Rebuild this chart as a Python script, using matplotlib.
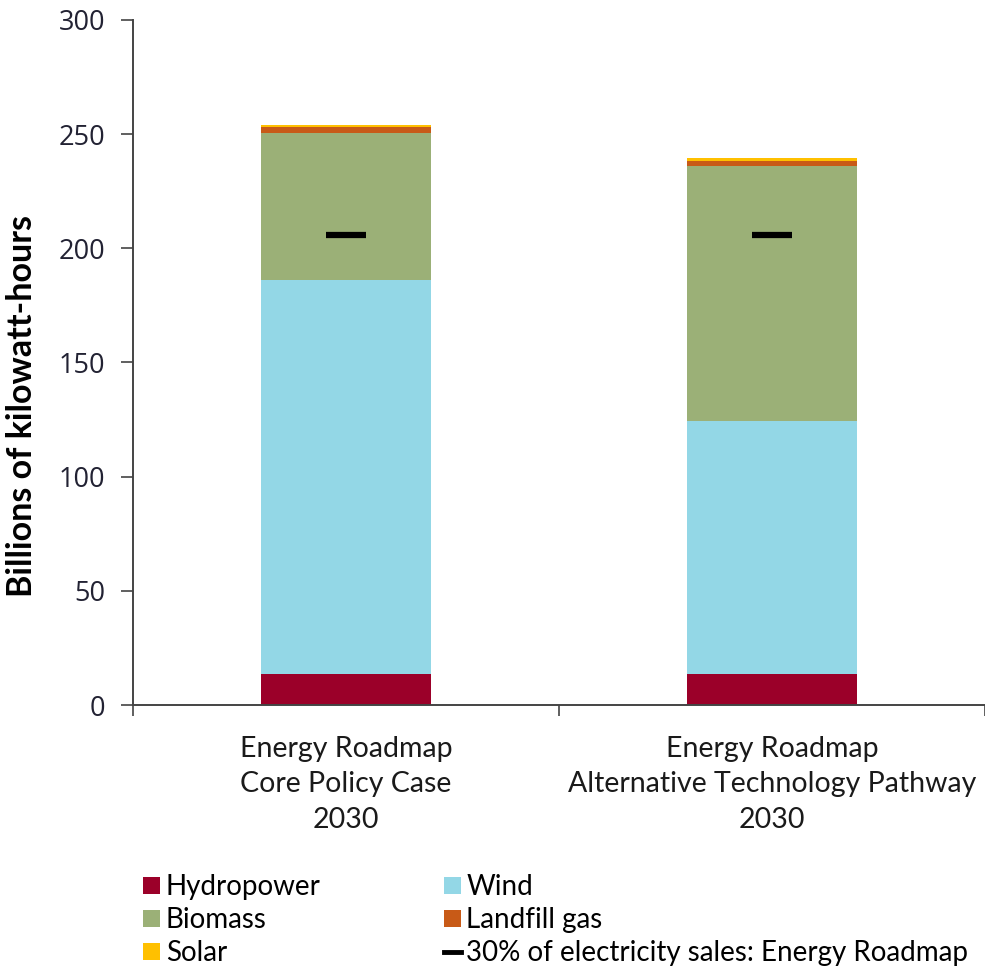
import matplotlib
matplotlib.use("Agg")
import matplotlib.pyplot as plt
from matplotlib.patches import Patch
from matplotlib.lines import Line2D
import numpy as np

plt.rcParams['font.family'] = ['Lato', 'DejaVu Sans']

categories = ["Energy Roadmap\nCore Policy Case\n2030",
              "Energy Roadmap\nAlternative Technology Pathway\n2030"]
hydropower = [13.6, 13.6]
wind = [172.6, 110.8]
biomass = [64.2, 111.7]
landfill = [2.8, 2.2]
solar = [0.7, 1.3]
target_30pct = [206, 206]

series = [("Hydropower", hydropower, "#9B0029"),
          ("Wind", wind, "#93D7E6"),
          ("Biomass", biomass, "#9BB077"),
          ("Landfill gas", landfill, "#C85A17"),
          ("Solar", solar, "#FFC000")]

fig = plt.figure(figsize=(9.85, 9.72), dpi=100)
ax = fig.add_axes([133/985, 1 - 705/972, 1 - 133/985, (705 - 20)/972])

x = np.arange(len(categories))
bottom = np.zeros(len(categories))
handles = {}
for name, vals, col in series:
    ax.bar(x, vals, width=0.4, bottom=bottom, color=col, edgecolor='none')
    bottom += np.array(vals)
    handles[name] = Patch(facecolor=col, edgecolor='none')

ax.scatter(x, target_30pct, marker='_', s=800, color='black', linewidths=4.5, zorder=5)

ax.set_xlim(-0.5, 1.5)
ax.set_ylim(0, 300)
ax.set_yticks(range(0, 301, 50))
ax.tick_params(axis='y', labelsize=19.5, colors='#444444', length=9, width=1.2,
               direction='out', pad=11, labelcolor='#222233')
for lbl in ax.get_yticklabels():
    lbl.set_family(['Open Sans', 'DejaVu Sans'])
ax.set_xticks(x)
ax.set_xticklabels(categories, fontsize=20.5, linespacing=1.47, color='#1a1a1a')
ax.tick_params(axis='x', length=0, pad=22)
ax.set_xticks([-0.5, 0.5, 1.5], minor=True)
ax.tick_params(axis='x', which='minor', length=8, width=1.2, direction='out', colors='#444444')
for s in ['top', 'right']:
    ax.spines[s].set_visible(False)
ax.spines['left'].set_color('#444444')
ax.spines['bottom'].set_color('#444444')
ax.spines['left'].set_linewidth(1.4)
ax.spines['bottom'].set_linewidth(1.4)
ax.set_ylabel("Billions of kilowatt-hours", fontsize=24.5, fontweight='bold')
ax.yaxis.set_label_coords(-(133 - 38) / 852, (705 - 406) / 685)

leg_handles = [handles["Hydropower"], handles["Biomass"], handles["Solar"],
               handles["Wind"], handles["Landfill gas"],
               Line2D([], [], color='black', lw=3.5)]
leg_labels = ["Hydropower", "Biomass", "Solar", "Wind", "Landfill gas",
              "30% of electricity sales: Energy Roadmap"]
fig.legend(leg_handles, leg_labels, ncol=2, loc='upper left',
           bbox_to_anchor=(124/985, 1 - 855/972), frameon=False,
           fontsize=20, handlelength=0.6, handleheight=0.6, handletextpad=0.2,
           columnspacing=4.45, labelspacing=0.25, borderpad=0.2)

fig.savefig("out.png", dpi=100)
